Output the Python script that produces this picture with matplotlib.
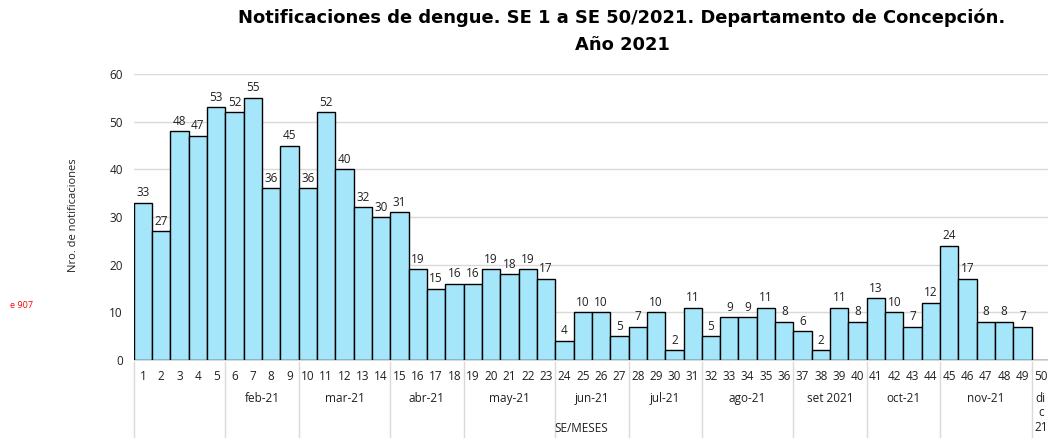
import numpy as np
import matplotlib.pyplot as plt
import matplotlib.transforms as mtransforms

plt.rcParams['font.family'] = ['Open Sans', 'DejaVu Sans']

# Data
semanas = list(range(1, 51))
casos = [33, 27, 48, 47, 53, 52, 55, 36, 45, 36,
         52, 40, 32, 30, 31, 19, 15, 16, 16, 19,
         18, 19, 17, 4, 10, 10, 5, 7, 10, 2,
         11, 5, 9, 9, 11, 8, 6, 2, 11, 8,
         13, 10, 7, 12, 24, 17, 8, 8, 7, 0]
meses = ['', 'feb-21', 'mar-21', 'abr-21', 'may-21', 'jun-21', 'jul-21',
         'ago-21', 'set 2021', 'oct-21', 'nov-21', 'di\nc\n21']
inicio_mes = [1, 6, 10, 15, 19, 24, 28, 32, 37, 41, 45, 50]

fig = plt.figure(figsize=(10.48, 4.38), dpi=100)
ax = fig.add_axes([133.8 / 1048, 1 - 360 / 438, 916.2 / 1048, 286 / 438])

bar_color = '#A6E6FA'
bars = ax.bar(semanas, casos, width=1.0, color=bar_color, edgecolor='black', linewidth=1.0, zorder=3)

# Value labels (skip zero)
for x, v in zip(semanas, casos):
    if v > 0:
        ax.annotate(str(v), (x, v), xytext=(0, 2.5), textcoords='offset points',
                    ha='center', va='bottom', fontsize=8.5, color='#202020')

ax.set_xlim(0.5, 50.5)
ax.set_ylim(0, 60)
ax.set_yticks(range(0, 61, 10))
ax.yaxis.grid(True, color='#d9d9d9', linewidth=1)
ax.set_axisbelow(True)
for s in ['top', 'right', 'left']:
    ax.spines[s].set_visible(False)
ax.spines['bottom'].set_color('#d9d9d9')
ax.tick_params(axis='y', length=0, labelsize=8.5, pad=8, colors='#202020')
ax.set_xticks([])

trans = mtransforms.blended_transform_factory(ax.transData, ax.transAxes)

# Week numbers
for x in semanas:
    ax.text(x, -0.059, str(x), transform=trans, ha='center', va='center',
            fontsize=8.5, color='#202020')

# Month group labels and separators
ends = inicio_mes[1:] + [51]
for label, a, b in zip(meses, inicio_mes, ends):
    ax.plot([a - 0.5, a - 0.5], [-0.007, -0.273], transform=trans, color='#d9d9d9',
            linewidth=1, clip_on=False)
    center = (a + b - 1) / 2
    if label.startswith('di'):
        for i, part in enumerate(label.split('\n')):
            ax.text(center, -0.133 - i * 0.052, part, transform=trans, ha='center',
                    va='center', fontsize=8.5, color='#202020')
    elif label:
        ax.text(center, -0.133, label, transform=trans, ha='center', va='center',
                fontsize=8.5, color='#202020')

ax.text(24.9, -0.238, 'SE/MESES', transform=trans, ha='center', va='center',
        fontsize=8.5, color='#202020')

fig.text(73 / 1048, 1 - 215 / 438, 'Nro. de notificaciones', rotation=90,
         ha='center', va='center', fontsize=8, color='#202020')
fig.text(22 / 1048, 1 - 305 / 438, 'e 907', ha='center', va='center',
         fontsize=6.5, color='red')

fig.text(622 / 1048, 1 - 18 / 438, 'Notificaciones de dengue. SE 1 a SE 50/2021. Departamento de Concepción.',
         ha='center', va='center', fontsize=12.9, fontweight='bold', family=['DejaVu Sans'])
fig.text(622 / 1048, 1 - 45 / 438, 'Año 2021',
         ha='center', va='center', fontsize=12.9, fontweight='bold', family=['DejaVu Sans'])

fig.savefig('out.png', dpi=100)
